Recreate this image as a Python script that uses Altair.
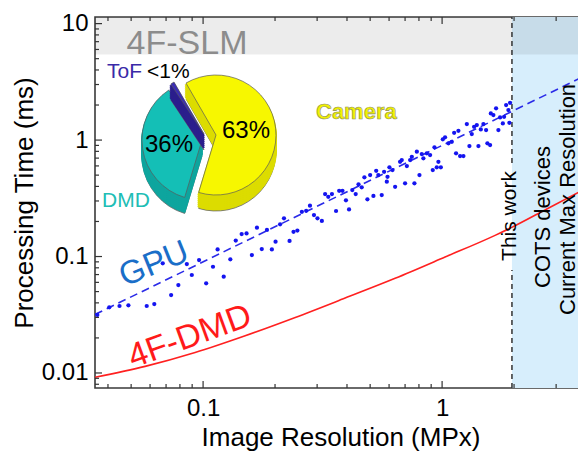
import math
import altair as alt
import pandas as pd

# ---------------- data ----------------
gpu_x = [0.0361, 0.0405, 0.0447, 0.0487, 0.0581, 0.0625, 0.0735, 0.0678, 0.0788, 0.0855,
         0.0897, 0.0962, 0.103, 0.110, 0.115, 0.122, 0.130, 0.137, 0.145, 0.152,
         0.160, 0.168, 0.176, 0.185, 0.194, 0.201, 0.210, 0.218, 0.230, 0.239,
         0.248, 0.259, 0.270, 0.280, 0.291, 0.301, 0.314, 0.324, 0.334, 0.346,
         0.360, 0.371, 0.383, 0.396, 0.408, 0.421, 0.435, 0.447, 0.461, 0.473,
         0.487, 0.500, 0.516, 0.530, 0.541, 0.559, 0.572, 0.587, 0.602, 0.591,
         0.620, 0.636, 0.667, 0.678, 0.700, 0.712, 0.735, 0.747, 0.766, 0.784,
         0.804, 0.822, 0.835, 0.863, 0.891, 0.914, 0.929, 0.950, 0.965, 0.988,
         1.007, 1.029, 1.063, 1.098, 1.123, 1.144, 1.170, 1.189, 1.228, 1.269,
         1.301, 1.331, 1.361, 1.397, 1.419, 1.452, 1.489, 1.528, 1.547, 1.588,
         1.599, 1.639, 1.682, 1.720, 1.748, 1.795, 1.817, 1.853, 1.894, 1.912, 1.925]
gpu_y = [0.0315, 0.0366, 0.0376, 0.0381, 0.0376, 0.0391, 0.0467, 0.0874, 0.0569, 0.0862,
         0.0694, 0.0933, 0.0589, 0.0817, 0.115, 0.0671, 0.0946, 0.137, 0.156, 0.158,
         0.103, 0.177, 0.116, 0.169, 0.115, 0.134, 0.189, 0.213, 0.136, 0.163,
         0.167, 0.242, 0.247, 0.273, 0.227, 0.213, 0.202, 0.344, 0.326, 0.344,
         0.246, 0.367, 0.367, 0.304, 0.254, 0.372, 0.344, 0.417, 0.393, 0.479,
         0.310, 0.501, 0.331, 0.545, 0.501, 0.337, 0.534, 0.439, 0.583, 0.484,
         0.553, 0.397, 0.651, 0.674, 0.425, 0.598, 0.674, 0.719, 0.425, 0.794,
         0.501, 0.759, 0.697, 0.769, 0.743, 0.553, 0.866, 0.583, 0.651, 0.583,
         1.014, 1.055, 0.937, 0.967, 1.155, 0.769, 1.202, 0.729, 0.729, 1.372,
         0.888, 1.126, 1.30, 1.345, 0.888, 1.235, 1.372, 1.218, 0.937, 0.906,
         1.695, 1.639, 1.872, 1.218, 1.566, 1.391, 1.585, 1.997, 1.809, 1.408, 2.09]

fit_x = [0.0353, 4.0]
fit_y = [0.0318, 3.6]

dmd_x = [0.0353, 0.0572, 0.0926, 0.150, 0.243, 0.393, 0.636, 1.029, 1.666, 1.957, 2.742, 4.0]
dmd_y = [0.00919, 0.0114, 0.0150, 0.0209, 0.0300, 0.0440, 0.0650, 0.0990, 0.152, 0.178, 0.256, 0.385]

pie_labels = ["Camera", "DMD", "ToF"]
pie_values = [63, 36, 1]

slm_floor = 5.44          # lower edge of the 4F-SLM band (ms)
cots_x = [1.96, 4.0]      # COTS devices region (MPx)
vline_x = [1.96, 1.96, 3.86, 3.86]
vline_y1 = [0.00743, 0.635, 0.00743, 2.80]
vline_y2 = [0.0766, 11.4, 0.0285, 11.4]

x_major = [0.1, 1]
x_minor = [0.04, 0.05, 0.06, 0.07, 0.08, 0.09, 0.2, 0.3, 0.4, 0.5, 0.6, 0.7, 0.8, 0.9, 2, 3]
y_major = [0.01, 0.1, 1, 10]
y_minor = [0.008, 0.009, 0.02, 0.03, 0.04, 0.05, 0.06, 0.07, 0.08, 0.09,
           0.2, 0.3, 0.4, 0.5, 0.6, 0.7, 0.8, 0.9, 2, 3, 4, 5, 6, 7, 8, 9]

# ---------------- setup ----------------
x_dom = [0.0353, 4.0]
y_dom = [0.00743, 11.4]
W, H = 491, 371
FONT = "Liberation Sans"

xaxis = alt.Axis(values=x_major, format="~g", title="Image Resolution (MPx)", ticks=False,
                 tickSize=0, domain=False, grid=False, labelPadding=8, titlePadding=4)
yaxis = alt.Axis(values=y_major, format="~g", title="Processing Time (ms)", ticks=False,
                 tickSize=0, domain=False, grid=False, labelPadding=7, titlePadding=4)
xs = alt.Scale(type="log", domain=x_dom, nice=False)
ys = alt.Scale(type="log", domain=y_dom, nice=False)


def X(f):
    return alt.X(f, type="quantitative", scale=xs, axis=xaxis)


def Y(f):
    return alt.Y(f, type="quantitative", scale=ys, axis=yaxis)


layers = []

# COTS region
cots_df = pd.DataFrame({"x1": [cots_x[0]], "x2": [cots_x[1]]})
layers.append(alt.Chart(cots_df).mark_rect(color="#d7eefc", clip=True).encode(
    x=X("x1"), x2=alt.X2("x2"), y=alt.value(0), y2=alt.value(H)))

# 4F-SLM band
slm_df = pd.DataFrame({"y": [slm_floor]})
layers.append(alt.Chart(slm_df).mark_rect(color="#000000", opacity=0.075).encode(
    y=Y("y"), y2=alt.value(0), x=alt.value(0), x2=alt.value(W)))

# dashed vertical markers
vl_df = pd.DataFrame({"x": vline_x, "y1": vline_y1, "y2": vline_y2})
layers.append(alt.Chart(vl_df).mark_rule(color="#333333", strokeWidth=1.5, strokeDash=[5, 4]).encode(
    x=X("x"), y=Y("y1"), y2=alt.Y2("y2")))

# 4F-DMD curve
dmd_df = pd.DataFrame({"x": dmd_x, "y": dmd_y})
layers.append(alt.Chart(dmd_df).mark_line(color="#ff2020", strokeWidth=1.6, interpolate="monotone", clip=True).encode(
    x=X("x"), y=Y("y")))

# GPU fit
fit_df = pd.DataFrame({"x": fit_x, "y": fit_y})
layers.append(alt.Chart(fit_df).mark_line(color="#2a2ae8", strokeWidth=1.6, strokeDash=[8, 5], clip=True).encode(
    x=X("x"), y=Y("y")))

# GPU points
gpu_df = pd.DataFrame({"x": gpu_x, "y": gpu_y})
layers.append(alt.Chart(gpu_df).mark_circle(size=18, color="#1414f0", opacity=1).encode(
    x=X("x"), y=Y("y")))

# ---------------- 3D-ish pie ----------------
pie_df = pd.DataFrame({"label": pie_labels, "value": pie_values})
r0 = -30 * math.pi / 180
CX, CY, R, DEPTH = 113, 121, 60, 16
theta_enc = alt.Theta("start:Q", scale=alt.Scale(domain=[0, 100], range=[r0, r0 + 2 * math.pi]))
styles = {
    "Camera": dict(top="#f7f700", side="#dcdc00", dx=8, dy=-3),
    "DMD": dict(top="#14bfb6", side="#0ea59e", dx=-6, dy=2),
    "ToF": dict(top="#3b2db5", side="#2b1e8c", dx=-4, dy=-4),
}
for lab in pie_labels:
    st = styles[lab]
    base = (alt.Chart(pie_df)
            .transform_window(end="sum(value)", frame=[None, 0])
            .transform_calculate(start="datum.end - datum.value")
            .transform_filter(alt.datum.label == lab))
    enc = dict(theta=theta_enc, theta2=alt.Theta2("end:Q"), x=alt.value(CX), y=alt.value(CY))
    for k in range(DEPTH, 0, -2):
        layers.append(base.mark_arc(
            outerRadius=R, xOffset=st["dx"], yOffset=st["dy"] + k, fill=st["side"],
            stroke="#666666" if k == DEPTH else st["side"],
            strokeWidth=0.8 if k == DEPTH else 2).encode(**enc))
    layers.append(base.mark_arc(
        outerRadius=R, xOffset=st["dx"], yOffset=st["dy"], fill=st["top"],
        stroke="#5a5a5a", strokeWidth=0.7).encode(**enc))


# ---------------- text ----------------
def txt(s, x, y, size, color="black", angle=0, align="center", baseline="middle",
        weight="normal", **kw):
    return alt.Chart(pd.DataFrame({"t": [s]})).mark_text(
        font=FONT, fontSize=size, color=color, angle=angle, align=align, baseline=baseline,
        fontWeight=weight, **kw).encode(x=alt.value(x), y=alt.value(y), text="t:N")


layers += [
    txt("4F-SLM", 92, 37, 34, "#8c8c8c", baseline="alphabetic"),
    txt("ToF", 12, 61, 21, "#3a2aa8", align="left", baseline="alphabetic"),
    txt("<1%", 52, 61, 21, align="left", baseline="alphabetic"),
    txt("63%", 151, 114, 24),
    txt("36%", 74, 128, 24),
    txt("DMD", 7, 190, 21, "#20bdb5", align="left", baseline="alphabetic"),
    txt("Camera", 221, 95, 22, "#f2f200", align="left", weight="bold",
        stroke="#8f8f60", strokeWidth=0.6),
    txt("GPU", 59, 247, 33, "#1a6ec8", angle=338),
    txt("4F-DMD", 95, 320, 34, "#ff1a1a", angle=340),
    txt("This work", 415, 199, 21, angle=270),
    txt("COTS devices", 448, 200, 22, angle=270),
    txt("Current Max Resolution", 473, 298, 22, angle=270, align="left"),
]

# ---------------- inward ticks ----------------
for vals, ln in ((x_major, 7), (x_minor, 4)):
    d = pd.DataFrame({"v": vals})
    layers.append(alt.Chart(d).mark_rule(color="#333333", strokeWidth=1.2).encode(
        x=X("v"), y=alt.value(H), y2=alt.value(H - ln)))
    layers.append(alt.Chart(d).mark_rule(color="#333333", strokeWidth=1.2).encode(
        x=X("v"), y=alt.value(0), y2=alt.value(ln)))
for vals, ln in ((y_major, 7), (y_minor, 4)):
    d = pd.DataFrame({"v": vals})
    layers.append(alt.Chart(d).mark_rule(color="#333333", strokeWidth=1.2).encode(
        y=Y("v"), x=alt.value(0), x2=alt.value(ln)))
    layers.append(alt.Chart(d).mark_rule(color="#333333", strokeWidth=1.2).encode(
        y=Y("v"), x=alt.value(W), x2=alt.value(W - ln)))

chart = (alt.layer(*layers)
         .properties(width=W, height=H, autosize="none",
                     padding={"left": 87, "top": 9, "right": -8, "bottom": 64})
         .configure_view(stroke="#3a3a3a", strokeWidth=1.6)
         .configure_axis(labelFont=FONT, labelFontSize=24, labelColor="black",
                         titleFont=FONT, titleFontSize=26, titleFontWeight="normal",
                         titleColor="black"))

chart.save("out.html", embed_options={"renderer": "svg", "actions": False})
